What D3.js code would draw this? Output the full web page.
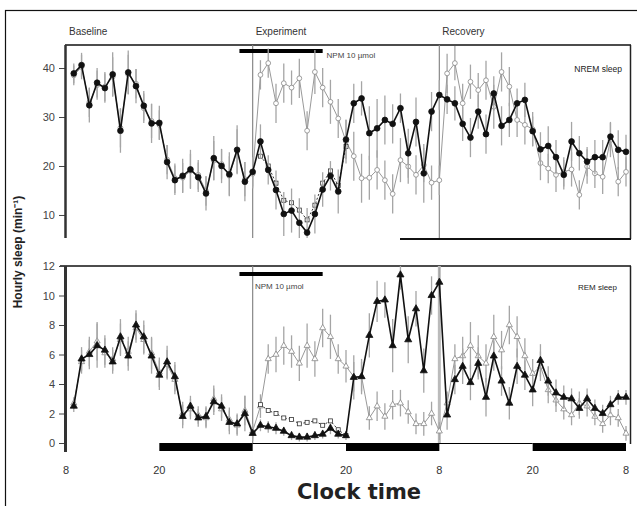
<!DOCTYPE html>
<html>
<head>
<meta charset="utf-8">
<script src="https://cdn.jsdelivr.net/npm/d3@7"></script>
<style>
  body { margin: 0; background: #fff; }
  svg { display: block; font-family: "Liberation Sans", Arial, sans-serif; }
</style>
</head>
<body>
<script>
'use strict';

// hours after 08:00 on the baseline day, one point per hour
const hours = d3.range(1, 73);
const xTickHours = [0, 12, 24, 36, 48, 60, 72];
const xTickLabels = ['8', '20', '8', '20', '8', '20', '8'];
const darkStart = [12, 36, 60];
const darkEnd = [24, 48, 72];
const phaseNames = ['Baseline', 'Experiment', 'Recovery'];
const phaseStart = [0, 24, 48];

// NREM sleep (min per hour), filled = NPM, open = vehicle
const nremNpm = [38.9, 40.6, 32.4, 37, 35.9, 38.7, 27.2, 39.1, 36.3, 32.3, 28.7, 28.8, 20.8, 17.1, 18, 19.3, 17.7, 14.4, 21.6, 20, 18.3, 23.3, 16.8, 18.8,
  25, 19.2, 15.1, 10.2, 10.9, 8.4, 6.4, 10.2, 15.2, 18, 14.8, 25.4, 32.8, 33.8, 26.7, 27.7, 29.4, 28.6, 31.8, 22.6, 29, 18.5, 31.1, 34.5,
  33.6, 32.8, 28.6, 25.8, 31.1, 26.5, 34.8, 28.2, 29.4, 32.8, 33.5, 27.1, 23.4, 24.1, 21.8, 18.2, 25, 22.6, 20.9, 21.8, 21.8, 26, 23.3, 22.9];
const nremNpmErr = [2, 2.5, 3.5, 3, 3, 4.5, 4.5, 4.5, 3.5, 3, 4, 3.5, 3.5, 3, 3.5, 4, 3, 3.5, 4.5, 3.5, 4.5, 5, 4, 3,
  3.5, 3, 4, 4.5, 4.5, 5, 5, 4, 3.5, 3, 4.5, 4, 4, 3.5, 5.5, 6, 5, 4, 3, 5, 5, 6, 4, 3,
  3, 3.5, 3.5, 4, 3.5, 4, 3.5, 4, 3.5, 3, 3.5, 3, 3.5, 4, 3.5, 3, 4, 3.5, 3, 3.5, 3.5, 3, 4, 3.5];
const nremVeh = [38.5, 40.2, 33.0, 36.5, 36.2, 38.2, 27.8, 38.7, 36.8, 31.8, 29.2, 28.4, 21.3, 17.5, 17.6, 19.0, 18.2, 14.9, 21.1, 20.4, 18.0, 23.0, 17.3, 18.4,
  38.6, 41, 32.8, 36.9, 36, 37.9, 27.2, 39.2, 36, 33.1, 29.7, 25, 22, 17.5, 17.6, 19.2, 17.1, 14.3, 21.2, 19.9, 18.2, 20.2, 16.6, 17.1,
  38.9, 41, 32.8, 37.2, 35.5, 37.5, 32.1, 39.2, 36.2, 29.4, 28.4, 27.5, 20.6, 19.5, 18.2, 18.8, 19.3, 14.1, 19.9, 18.5, 17.8, 25.3, 16.8, 18.8];
const nremVehErr = [2, 2.5, 3, 3, 3, 4, 4, 4, 3, 3, 3.5, 3, 3, 3, 3, 3.5, 3, 3, 4, 3, 4, 4.5, 3.5, 3,
  3, 3, 4, 4, 3.5, 4, 4, 4.5, 4, 4.5, 4, 4.5, 5, 5, 4.5, 4, 4, 4, 4.5, 3.5, 4, 3.5, 3.5, 3,
  4, 3.5, 4, 3.5, 3.5, 4, 4.5, 4, 4, 3.5, 4, 3.5, 3.5, 3, 3.5, 3, 3.5, 3, 3.5, 3, 3.5, 3.5, 3, 3];
// third group, only plotted during the NPM period (hours 25-36)
const sqHours = [25, 26, 27, 28, 29, 30, 31, 32, 33, 34, 35, 36];
const nremSq = [22, 20, 16.5, 13, 12.5, 11, 9, 12, 16.5, 19, 16, 24];

// REM sleep (min per hour)
const remNpm = [2.5, 5.7, 6.0, 6.6, 6.3, 5.5, 7.2, 5.9, 8.0, 7.2, 5.9, 4.6, 5.5, 4.5, 1.8, 2.5, 1.7, 1.8, 2.8, 2.5, 1.4, 1.3, 2.0, 0.65,
  1.2, 1.1, 1.0, 0.8, 0.5, 0.4, 0.4, 0.5, 0.6, 1.0, 0.6, 0.5, 4.45, 4.5, 7.3, 9.6, 9.7, 6.6, 11.4, 7.0, 9.1, 4.9, 10.0, 10.9,
  1.9, 4.3, 5.2, 4.1, 5.4, 3.1, 5.9, 4.2, 2.7, 5.2, 4.6, 3.6, 5.6, 4.2, 3.4, 3.1, 3.0, 2.35, 3.0, 2.35, 2.0, 2.6, 3.1, 3.1];
const remNpmErr = [0.4, 0.8, 1.0, 1.5, 1.0, 0.8, 1.2, 1.0, 1.0, 1.1, 1.2, 1.0, 1.1, 1.0, 0.8, 0.7, 0.6, 0.7, 0.9, 0.8, 0.8, 0.7, 1.2, 0.5,
  0.4, 0.4, 0.4, 0.3, 0.3, 0.3, 0.3, 0.3, 0.3, 0.4, 0.3, 0.3, 1.5, 1.2, 1.5, 1.4, 1.2, 1.8, 1.0, 1.6, 1.2, 1.5, 1.3, 1.0,
  1.0, 1.0, 1.2, 1.2, 1.1, 1.3, 1.0, 1.0, 1.1, 1.2, 1.0, 1.1, 1.1, 1.0, 0.9, 0.8, 0.7, 0.7, 0.7, 0.6, 0.6, 0.6, 0.5, 0.5];
const remVeh = [2.7, 5.5, 6.2, 6.9, 6.1, 5.7, 7.0, 6.2, 7.8, 7.0, 6.1, 4.8, 5.3, 4.3, 2.0, 2.3, 1.9, 1.7, 3.0, 2.3, 1.6, 1.2, 2.2, 0.8,
  2.5, 5.7, 6.0, 6.6, 6.2, 5.4, 6.6, 5.7, 7.8, 7.2, 5.7, 5.2, 4.5, 4.5, 1.7, 2.5, 1.8, 2.6, 2.7, 2.1, 1.3, 1.3, 2.0, 0.8,
  2.7, 5.7, 5.9, 6.6, 5.9, 5.4, 7.2, 6.3, 8.0, 7.2, 5.9, 4.7, 5.2, 3.6, 2.9, 2.3, 1.9, 2.7, 2.5, 1.8, 1.3, 1.9, 1.7, 0.65];
const remVehErr = [0.4, 0.8, 1.0, 1.3, 1.0, 0.8, 1.1, 1.0, 1.0, 1.0, 1.1, 1.0, 1.0, 1.0, 0.8, 0.7, 0.6, 0.7, 0.9, 0.8, 0.8, 0.7, 1.0, 0.5,
  0.8, 1.0, 1.2, 1.3, 1.1, 1.2, 1.5, 1.2, 1.3, 1.5, 1.0, 1.1, 1.0, 1.0, 0.8, 1.0, 0.9, 1.0, 0.9, 0.8, 0.7, 0.8, 0.8, 0.6,
  0.8, 1.0, 1.3, 1.6, 1.4, 1.3, 1.5, 1.3, 1.3, 1.4, 1.2, 1.0, 1.0, 0.9, 0.8, 0.7, 0.7, 0.8, 0.7, 0.6, 0.6, 0.7, 0.6, 0.5];
const remSq = [2.6, 2.2, 2.0, 1.7, 1.6, 1.3, 1.4, 1.5, 1.2, 1.5, 0.9, 0.5];

(function () {

  const W = 637, H = 506;
  const svg = d3.select('body').append('svg')
    .attr('width', W)
    .attr('height', H);

  // outer frame of the figure
  svg.append('rect')
    .attr('x', 5.5).attr('y', 10.5)
    .attr('width', 640).attr('height', 510)
    .attr('fill', 'none').attr('stroke', '#111').attr('stroke-width', 1.2);

  const x = d3.scaleLinear().domain([0, 72]).range([66, 626]);

  const top = { y0: 45, y1: 238, scale: d3.scaleLinear().domain([5.3, 44.7]).range([238, 45]) };
  const bot = { y0: 266, y1: 443, scale: d3.scaleLinear().domain([0, 12]).range([443, 266]) };

  // clip paths for both panels
  const defs = svg.append('defs');
  defs.append('clipPath').attr('id', 'clipTop').append('rect')
    .attr('x', 60).attr('y', top.y0).attr('width', 570).attr('height', top.y1 - top.y0);
  defs.append('clipPath').attr('id', 'clipBot').append('rect')
    .attr('x', 60).attr('y', bot.y0).attr('width', 570).attr('height', bot.y1 - bot.y0 + 2);

  // phase titles
  svg.selectAll('.phase')
    .data(phaseNames)
    .enter()
    .append('text')
    .attr('x', (d, i) => x(phaseStart[i]) + 3)
    .attr('y', 35)
    .style('font-size', '10px')
    .attr('fill', '#333')
    .text(d => d);

  drawFrame(top, [10, 20, 30, 40], false);
  drawFrame(bot, [0, 2, 4, 6, 8, 10, 12], true);

  // NPM bars with labels
  svg.append('line')
    .attr('x1', x(22.3)).attr('x2', x(33))
    .attr('y1', 51).attr('y2', 51)
    .attr('stroke', '#000').attr('stroke-width', 4);
  svg.append('text')
    .attr('x', x(33.5)).attr('y', 58)
    .style('font-size', '8px').attr('fill', '#444')
    .text('NPM 10 \u00b5mol');
  svg.append('line')
    .attr('x1', x(22.3)).attr('x2', x(33))
    .attr('y1', 274).attr('y2', 274)
    .attr('stroke', '#000').attr('stroke-width', 4);
  svg.append('text')
    .attr('x', x(24.3)).attr('y', 289)
    .style('font-size', '8px').attr('fill', '#444')
    .text('NPM 10 \u00b5mol');

  // panel names
  svg.append('text')
    .attr('x', 622).attr('y', 72)
    .attr('text-anchor', 'end')
    .style('font-size', '8.5px').attr('fill', '#222')
    .text('NREM sleep');
  svg.append('text')
    .attr('x', 617).attr('y', 290)
    .attr('text-anchor', 'end')
    .style('font-size', '8px').attr('fill', '#222')
    .text('REM sleep');

  // series
  plotSeries(top, 'clipTop', nremVeh, nremVehErr, 'open', 'circle');
  plotSquares(top, 'clipTop', nremSq);
  plotSeries(top, 'clipTop', nremNpm, nremNpmErr, 'filled', 'circle');

  plotSeries(bot, 'clipBot', remVeh, remVehErr, 'open', 'triangle');
  plotSquares(bot, 'clipBot', remSq);
  plotSeries(bot, 'clipBot', remNpm, remNpmErr, 'filled', 'triangle');

  // light / dark bars under REM panel
  svg.append('line')
    .attr('x1', x(24)).attr('x2', x(60))
    .attr('y1', 443.5).attr('y2', 443.5)
    .attr('stroke', '#000').attr('stroke-width', 1.2);
  svg.selectAll('.dark')
    .data(darkStart)
    .enter()
    .append('rect')
    .attr('x', d => x(d))
    .attr('y', 443)
    .attr('width', (d, i) => x(darkEnd[i]) - x(d))
    .attr('height', 8)
    .attr('fill', '#000');

  // x tick labels
  svg.selectAll('.xt')
    .data(xTickHours)
    .enter()
    .append('text')
    .attr('x', d => x(d))
    .attr('y', 474)
    .attr('text-anchor', 'middle')
    .style('font-size', '11px').attr('fill', '#333')
    .text((d, i) => xTickLabels[i]);

  svg.append('text')
    .attr('x', 359).attr('y', 499)
    .attr('text-anchor', 'middle')
    .style('font-family', '"DejaVu Sans", sans-serif')
    .style('font-weight', 'bold')
    .style('font-size', '21px')
    .attr('fill', '#222')
    .text('Clock time');

  svg.append('text')
    .attr('transform', 'translate(22, 252)rotate(-90)')
    .attr('text-anchor', 'middle')
    .style('font-size', '12px')
    .style('font-weight', 'bold')
    .attr('fill', '#222')
    .text('Hourly sleep (min\u207b\u00b9)');

  // draw panel frame, y axis and vertical phase lines
  function drawFrame(p, ticks, isBottom) {
    // top edge and right edge
    svg.append('line')
      .attr('x1', isBottom ? 60 : 65).attr('x2', 631)
      .attr('y1', p.y0).attr('y2', p.y0)
      .attr('stroke', '#111').attr('stroke-width', 1.5);
    svg.append('line')
      .attr('x1', 630.5).attr('x2', 630.5)
      .attr('y1', p.y0).attr('y2', p.y1 + 1)
      .attr('stroke', '#222').attr('stroke-width', 1.5);
    if (!isBottom) {
      svg.append('line')
        .attr('x1', 400).attr('x2', 631)
        .attr('y1', p.y1 + 1).attr('y2', p.y1 + 1)
        .attr('stroke', '#111').attr('stroke-width', 2);
    }

    const yAxis = d3.axisLeft(p.scale)
      .tickValues(ticks)
      .tickSize(6)
      .tickPadding(4)
      .tickFormat(d3.format('d'));
    const g = svg.append('g')
      .attr('transform', 'translate(65, 0)')
      .call(yAxis);
    g.select('.domain').remove();
    g.selectAll('text').style('font-size', '11px').attr('fill', '#444');
    g.selectAll('line').attr('stroke', '#444');
    svg.append('line')
      .attr('x1', 65.5).attr('x2', 65.5)
      .attr('y1', p.y0).attr('y2', isBottom ? 452 : p.y1)
      .attr('stroke', '#333').attr('stroke-width', isBottom ? 3 : 2.5);

    // vertical separators at the start of experiment and recovery
    svg.selectAll(null)
      .data([24, 48])
      .enter()
      .append('line')
      .attr('x1', d => x(d)).attr('x2', d => x(d))
      .attr('y1', p.y0).attr('y2', p.y1)
      .attr('stroke', (d) => (isBottom && d === 48) ? '#bbb' : '#888')
      .attr('stroke-width', (d) => (isBottom && d === 48) ? 3 : 1.2);
  }

  // one series: error bars, line and markers
  function plotSeries(p, clip, vals, errs, style, shape) {
    const g = svg.append('g').attr('clip-path', 'url(#' + clip + ')');
    const y = p.scale;
    const pts = hours.map((h, i) => ({ h: h, v: vals[i], e: errs[i] }));

    g.selectAll('.err')
      .data(pts)
      .enter()
      .append('line')
      .attr('x1', d => x(d.h)).attr('x2', d => x(d.h))
      .attr('y1', d => y(d.v - d.e)).attr('y2', d => y(d.v + d.e))
      .attr('stroke', '#a5a5a5')
      .attr('stroke-width', 1.3);

    const line = d3.line()
      .x(d => x(d.h))
      .y(d => y(d.v));
    g.append('path')
      .datum(pts)
      .attr('fill', 'none')
      .attr('stroke', style === 'filled' ? '#111' : '#999')
      .attr('stroke-width', style === 'filled' ? 1.6 : 1)
      .attr('d', line);

    let size = style === 'filled' ? 26 : 18;
    if (shape === 'triangle') size = style === 'filled' ? 22 : 16;
    const sym = d3.symbol()
      .type(shape === 'circle' ? d3.symbolCircle : d3.symbolTriangle)
      .size(size);
    g.selectAll('.pt')
      .data(pts)
      .enter()
      .append('path')
      .attr('transform', d => 'translate(' + x(d.h) + ',' + y(d.v) + ')')
      .attr('d', sym)
      .attr('fill', style === 'filled' ? '#111' : '#fff')
      .attr('stroke', style === 'filled' ? '#111' : '#888')
      .attr('stroke-width', 0.8);
  }

  // dotted series with small open squares
  function plotSquares(p, clip, vals) {
    const g = svg.append('g').attr('clip-path', 'url(#' + clip + ')');
    const y = p.scale;
    const pts = sqHours.map((h, i) => ({ h: h, v: vals[i] }));
    g.append('path')
      .datum(pts)
      .attr('fill', 'none')
      .attr('stroke', '#333')
      .attr('stroke-width', 1)
      .attr('stroke-dasharray', '2,2')
      .attr('d', d3.line().x(d => x(d.h)).y(d => y(d.v)));
    g.selectAll('.sq')
      .data(pts)
      .enter()
      .append('rect')
      .attr('x', d => x(d.h) - 2).attr('y', d => y(d.v) - 2)
      .attr('width', 4).attr('height', 4)
      .attr('fill', '#fff').attr('stroke', '#333').attr('stroke-width', 0.8);
  }

})();
</script>
</body>
</html>
